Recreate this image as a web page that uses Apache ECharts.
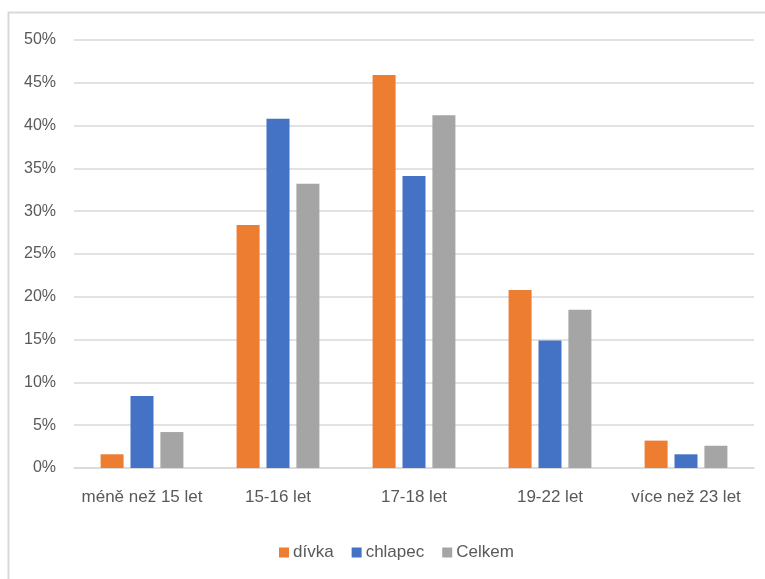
<!DOCTYPE html>
<html>
<head>
<meta charset="utf-8">
<script src="https://cdn.jsdelivr.net/npm/echarts@6/dist/echarts.min.js"></script>
<style>
  html, body { margin: 0; padding: 0; background: #fff; }
  #chart { width: 765px; height: 579px; }
</style>
</head>
<body>
<div id="chart"></div>
<script>
// Age groups and shares (%) by gender
const categories = ['méně než 15 let', '15-16 let', '17-18 let', '19-22 let', 'více než 23 let'];
const divka   = [1.6, 28.4, 45.9, 20.8, 3.2];
const chlapec = [8.4, 40.8, 34.1, 14.9, 1.6];
const celkem  = [4.2, 33.2, 41.2, 18.5, 2.6];
const seriesNames = ['dívka', 'chlapec', 'Celkem'];
const seriesColors = ['#ED7D31', '#4472C4', '#A5A5A5'];

const FONT = '"Liberation Sans", sans-serif';
const TEXT = '#595959';

const chart = echarts.init(document.getElementById('chart'), null, { renderer: 'canvas' });

const seriesData = [divka, chlapec, celkem];

chart.setOption({
  animation: false,
  backgroundColor: '#ffffff',
  grid: { left: 74, right: 11, top: 40, bottom: 111, containLabel: false },
  graphic: [{
    type: 'rect',
    shape: { x: 8.5, y: 12.5, width: 800, height: 600 },
    style: { fill: 'none', stroke: '#d9d9d9', lineWidth: 2 },
    silent: true
  }],
  legend: {
    data: seriesNames,
    bottom: 13,
    left: 274,
    itemWidth: 10,
    itemHeight: 10,
    itemGap: 18,
    icon: 'rect',
    textStyle: { fontFamily: FONT, fontSize: 17, color: TEXT, padding: [0, 0, 0, -1] }
  },
  xAxis: {
    type: 'category',
    data: categories,
    axisLine: { show: true, lineStyle: { color: '#d9d9d9', width: 1.5 } },
    axisTick: { show: false },
    axisLabel: { fontFamily: FONT, fontSize: 17, color: TEXT, margin: 21, interval: 0 }
  },
  yAxis: {
    type: 'value',
    min: 0,
    max: 50,
    interval: 5,
    axisLine: { show: false },
    axisTick: { show: false },
    splitLine: { lineStyle: { color: '#d9d9d9', width: 1.5 } },
    axisLabel: { fontFamily: FONT, fontSize: 16, color: TEXT, margin: 18, formatter: '{value}%' }
  },
  series: seriesNames.map((name, i) => ({
    name: name,
    type: 'bar',
    data: seriesData[i],
    barWidth: 23,
    barGap: '30%',
    itemStyle: { color: seriesColors[i] }
  }))
});
</script>
</body>
</html>
